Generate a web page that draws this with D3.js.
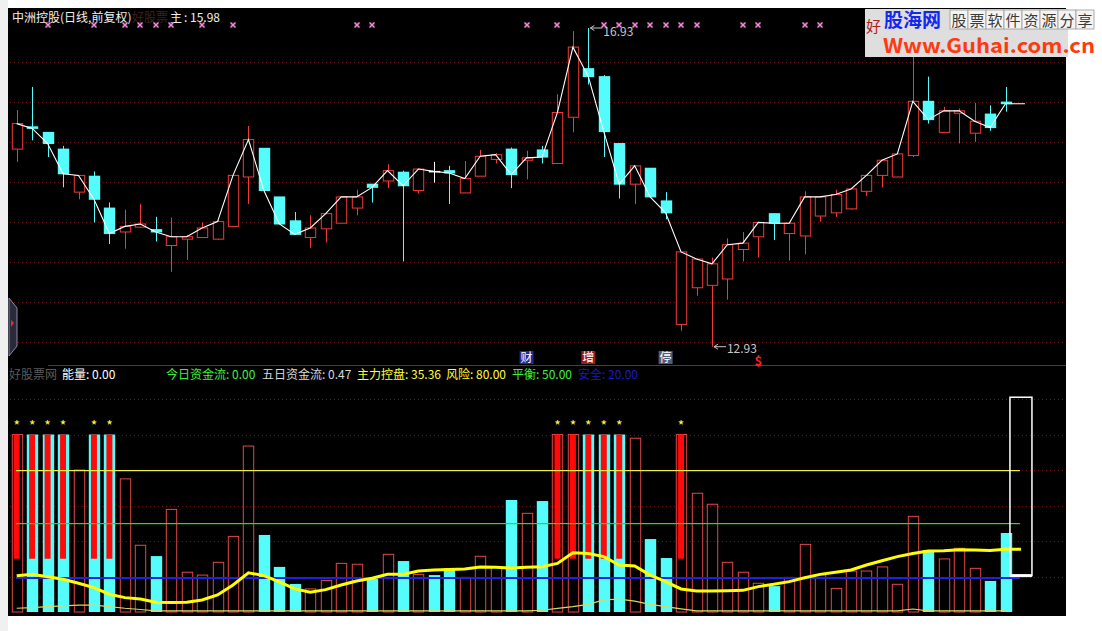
<!DOCTYPE html>
<html><head><meta charset="utf-8">
<script src="https://cdn.jsdelivr.net/npm/d3@7"></script>
<style>
html,body{margin:0;padding:0;background:#fff;}
svg{display:block;}
text{font-family:"Noto Sans CJK SC","DejaVu Sans",sans-serif;}
</style></head>
<body>
<script>
// ---------------- DATA ----------------
const opens  = [15.41,15.69,15.62,15.41,14.87,15.07,14.67,14.37,14.43,14.40,14.20,14.28,14.30,14.28,14.44,15.06,15.42,14.81,14.51,14.30,14.41,14.48,14.67,14.97,15.01,15.12,14.89,15.13,15.14,14.86,15.07,15.28,15.41,15.27,15.40,15.23,15.81,16.42,16.32,15.48,14.97,15.17,14.76,13.21,13.67,13.70,13.78,14.15,14.31,14.60,14.35,14.32,14.57,14.61,14.66,14.88,15.08,15.06,15.33,16.01,15.62,15.86,15.61,15.85,16.00];
const highs  = [15.90,16.19,15.62,15.45,15.08,15.13,14.74,14.65,14.72,14.56,14.55,14.33,14.49,14.52,15.08,15.70,15.42,14.81,14.62,14.58,14.60,14.81,14.90,14.97,15.22,15.14,15.16,15.25,15.20,15.26,15.40,15.36,15.43,15.39,15.45,16.10,16.89,16.93,16.34,15.48,15.20,15.17,14.87,14.12,14.03,14.05,14.29,14.37,14.49,14.60,14.48,14.88,14.81,14.90,14.91,15.08,15.27,15.35,16.75,16.32,15.94,15.92,15.99,15.96,16.19];
const lows   = [15.25,15.52,15.31,14.93,14.78,14.49,14.22,14.16,14.42,14.25,13.87,14.02,14.30,14.27,14.44,14.72,14.89,14.47,14.34,14.17,14.24,14.48,14.58,14.74,14.92,14.00,14.85,14.99,14.72,14.86,15.07,15.23,14.92,15.03,15.23,15.23,15.62,16.22,15.31,14.79,14.72,14.81,14.53,13.13,13.57,12.93,13.52,14.00,14.05,14.27,14.01,14.09,14.50,14.56,14.65,14.82,14.93,15.06,15.31,15.73,15.62,15.48,15.50,15.64,15.88];
const closes = [15.73,15.67,15.48,15.10,15.08,14.78,14.35,14.44,14.47,14.37,14.31,14.31,14.42,14.50,15.08,15.53,14.89,14.47,14.34,14.42,14.60,14.81,14.81,14.93,15.14,14.95,15.16,15.13,15.11,15.04,15.32,15.34,15.09,15.30,15.31,15.87,16.69,16.32,15.63,14.97,15.20,14.81,14.61,14.12,14.03,13.97,14.21,14.23,14.49,14.48,14.48,14.81,14.81,14.84,14.91,15.08,15.27,15.35,16.01,15.78,15.89,15.89,15.76,15.68,15.98];
// top marker days (pink crosses)
const markerDays = [2,5,7,8,9,10,12,14,22,23,33,35,38,39,40,41,42,43,44,47,48,51,52];
// event tags under price panel
const tagDays   = [33,37,42];
const tagTexts  = ["财","增","停"];
const dollarDay = 48;
// lower panel
const energy = [100,100,100,100,80,100,100,75,37.6,31.5,57.8,22.4,20.8,28,42.6,93.5,43.4,25.4,15.8,13,17.8,27.4,26.9,19.3,32.5,28.7,21.2,20.8,24.6,19.5,31.4,25.5,63.1,55.6,62.5,100,100,100,100,100,97.9,41.1,30.4,100,66.9,60.7,28,22.4,16.2,14.6,19.5,38.1,21,13.3,23.1,23.1,25.4,15.6,53.9,34.9,29.9,35.9,24.6,17.5,44.5];
const starDays = [0,1,2,3,5,6,35,36,37,38,39,43];
const starBarTop = 100, starBarBottom = 30;
const mainCtrl = [20.4,21.2,19.9,18.4,16.2,13.7,10,8.1,7.3,5.5,5.3,5.5,6.8,9.6,15.2,22.1,20.5,17,13,11.1,12.6,15.2,17.5,19,21.2,21.2,23.1,23.7,24,24.2,25.4,25.2,24.8,25.2,25.5,27.4,33.4,33,31.2,26.5,25.9,20.8,17.1,13,11.8,11.8,12,12.2,14.3,15.6,17.1,19.3,21.2,22.4,23.7,26.5,28.9,31.2,33,34.4,34.5,35.1,34.9,34.6,35.36];
const flow5 = [2.1,2.5,3,3.4,3.9,3.9,3,2.1,1.4,0.6,0.6,0.6,0.6,0.6,0.6,0.6,0.6,0.6,0.6,0.6,0.6,0.6,0.6,0.6,0.6,0.6,0.6,0.6,0.6,0.6,0.6,0.6,0.6,0.6,1,2,3,4.3,6.8,7.3,6.1,4.3,3,1.8,0.6,0.6,0.6,0.6,0.6,0.6,0.6,0.6,0.6,0.6,0.6,0.6,0.6,0.6,1.7,0.6,0.6,0.6,0.6,0.6,0.6];
const refValues = [80,50,20];
const refColors = ["#f0f040","#1ee61e","#2020e0"];
const boxTop = 121, boxBottom = 20.5;
const gridValues = [20,40,60,80,100,120];
// header texts
const topTitle = "中洲控股(日线,前复权)";
const topMain = ["主",": 15.98"];
const lowLabels = [
  {t:"能量: 0.00", c:"#ffffff", x:62},
  {t:"今日资金流: 0.00", c:"#3cf03c", x:166},
  {t:"五日资金流: 0.47", c:"#d8d8d8", x:262},
  {t:"主力控盘: 35.36", c:"#ffff30", x:357},
  {t:"风险: 80.00", c:"#ffff30", x:446},
  {t:"平衡: 50.00", c:"#3cf03c", x:512},
  {t:"安全: 20.00", c:"#1a1ac0", x:578}
];
const priceMax = 16.93, priceMin = 12.93;

// ---------------- DRAW ----------------
const W = 1102, H = 631;
const svg = d3.select("body").append("svg").attr("width", W).attr("height", H);
svg.append("rect").attr("width", W).attr("height", H).attr("fill", "#ffffff");
svg.append("rect").attr("x", 0).attr("y", 0).attr("width", 8).attr("height", H).attr("fill", "#f0f0f0");
svg.append("rect").attr("x", 8).attr("y", 8).attr("width", 1058).attr("height", 608).attr("fill", "#000");

const n = closes.length;
const x = d3.scaleLinear().domain([0, 64]).range([16.7, 1005.5]);
const yP = d3.scaleLinear().domain([priceMin, priceMax]).range([346.7, 28]);
const yV = d3.scaleLinear().domain([0, 120]).range([612, 399]);
const bw = 10.4;
const UP = "#f03a3a", DN = "#54fcfc";

// price grid (dotted)
const gTop = svg.append("g");
for (let k = 0; k < 8; k++) {
  const gy = Math.round(61.7 + 40 * k) + 0.5;
  gTop.append("line").attr("x1", 10).attr("x2", 1066).attr("y1", gy).attr("y2", gy)
    .attr("stroke", "#701414").attr("stroke-dasharray", "1,3");
}
// lower grid
svg.append("g").selectAll("line").data(gridValues).join("line")
  .attr("x1", 10).attr("x2", 1066)
  .attr("y1", d => Math.round(yV(d)) + 0.5).attr("y2", d => Math.round(yV(d)) + 0.5)
  .attr("stroke", "#701414").attr("stroke-dasharray", "1,3");

// separator
svg.append("line").attr("x1", 48).attr("x2", 1066).attr("y1", 365.5).attr("y2", 365.5).attr("stroke", "#a01818");

// top-left title
svg.append("text").attr("x", 12).attr("y", 22).attr("fill", "#f0f0f0").attr("font-size", 12).text(topTitle);
svg.append("text").attr("x", 132).attr("y", 22).attr("fill", "#3a2222").attr("font-size", 12).text("好股票");
svg.append("text").attr("x", 170).attr("y", 22).attr("fill", "#f0f0f0").attr("font-size", 12).text(topMain[0]);
svg.append("text").attr("x", 184).attr("y", 22).attr("fill", "#f0f0f0").attr("font-size", 12)
  .attr("font-family", "Liberation Sans, Arial, sans-serif").text(topMain[1]);

// markers
const mk = svg.append("g");
markerDays.forEach(i => {
  const cx = Math.round(x(i)), cy = 25;
  mk.append("rect").attr("x", cx - 2.5).attr("y", cy - 2.5).attr("width", 5).attr("height", 5).attr("fill", "#5a2448");
  mk.append("path").attr("d", `M${cx-2.5},${cy-2.5}L${cx+2.5},${cy+2.5}M${cx+2.5},${cy-2.5}L${cx-2.5},${cy+2.5}`)
    .attr("stroke", "#f090d8").attr("stroke-width", 1.2);
});

// candles
const cg = svg.append("g");
for (let i = 0; i < n; i++) {
  const o = opens[i], c = closes[i], h = highs[i], l = lows[i];
  const cx = Math.round(x(i)) + 0.5;
  const up = c > o, flat = c === o;
  const col = flat ? "#ffffff" : (up ? UP : DN);
  const top = yP(Math.max(o, c)), bot = yP(Math.min(o, c));
  if (up) {
    cg.append("line").attr("x1", cx).attr("x2", cx).attr("y1", yP(h)).attr("y2", top).attr("stroke", col);
    cg.append("line").attr("x1", cx).attr("x2", cx).attr("y1", bot).attr("y2", yP(l)).attr("stroke", col);
    cg.append("rect").attr("x", cx - bw / 2).attr("y", top).attr("width", bw).attr("height", Math.max(1, bot - top))
      .attr("fill", "#000").attr("stroke", col);
  } else {
    cg.append("line").attr("x1", cx).attr("x2", cx).attr("y1", yP(h)).attr("y2", yP(l)).attr("stroke", col);
    cg.append("rect").attr("x", cx - bw / 2 - 0.5).attr("y", top - 0.5).attr("width", bw + 1).attr("height", Math.max(1.5, bot - top + 1))
      .attr("fill", col);
  }
}
// close line
const closePts = closes.map((c, i) => [x(i), yP(c)]);
closePts.push([x(65) + 4, yP(closes[n - 1])]);
svg.append("path").attr("d", d3.line()(closePts)).attr("fill", "none").attr("stroke", "#ffffff").attr("stroke-width", 1.1);

// high / low labels
const hiIdx = d3.maxIndex(highs), loIdx = d3.minIndex(lows);
function priceTag(i, v, ty) {
  const ax = x(i) + 2, ay = yP(v);
  svg.append("path").attr("d", `M${ax},${ay}L${ax+12},${ay}M${ax},${ay}L${ax+4},${ay-2.5}M${ax},${ay}L${ax+4},${ay+2.5}`)
    .attr("stroke", "#c8c8c8").attr("fill", "none");
  svg.append("text").attr("x", ax + 13).attr("y", ty).attr("fill", "#c8c8c8").attr("font-size", 12)
    .attr("font-family", "Liberation Sans, Arial, sans-serif").text(v.toFixed(2));
}
priceTag(hiIdx, highs[hiIdx], yP(highs[hiIdx]) + 8);
priceTag(loIdx, lows[loIdx], yP(lows[loIdx]) + 6);

// event tags
const tagFill = ["#1c2c9c", "#9c1c1c", "#4c5c7c"];
tagDays.forEach((d, k) => {
  const cx = x(d);
  svg.append("rect").attr("x", cx - 7).attr("y", 351).attr("width", 14).attr("height", 13).attr("fill", tagFill[k]);
  svg.append("text").attr("x", cx).attr("y", 362).attr("text-anchor", "middle").attr("fill", "#ffffff").attr("font-size", 12).text(tagTexts[k]);
});
svg.append("text").attr("x", x(dollarDay)).attr("y", 366).attr("text-anchor", "middle").attr("fill", "#ff2020")
  .attr("font-size", 13).attr("font-weight", "bold").attr("font-family", "Liberation Sans, Arial, sans-serif").text("$");

// left tab
svg.append("path").attr("d", "M9,298L17,308L17,346L9,356Z").attr("fill", "#2a2a3a").attr("stroke", "#8888a8");
svg.append("path").attr("d", "M11,320L14,323L11,327Z").attr("fill", "#e03030");

// lower header
svg.append("text").attr("x", 9).attr("y", 379).attr("fill", "#5a5a5a").attr("font-size", 12).text("好股票网");
svg.selectAll("text.lab").data(lowLabels).join("text").attr("class", "lab")
  .attr("x", d => d.x).attr("y", 379).attr("fill", d => d.c).attr("font-size", 12).text(d => d.t);

// lower bars
const bg = svg.append("g");
for (let i = 0; i < n; i++) {
  const cx = Math.round(x(i)) + 0.5;
  const v = energy[i];
  const up = closes[i] > opens[i];
  if (up) {
    bg.append("rect").attr("x", cx - bw / 2).attr("y", yV(v)).attr("width", bw).attr("height", yV(0) - yV(v))
      .attr("fill", "none").attr("stroke", "#e04848");
  } else {
    bg.append("rect").attr("x", cx - bw / 2 - 0.5).attr("y", yV(v)).attr("width", bw + 1).attr("height", yV(0) - yV(v))
      .attr("fill", DN);
  }
}
// star bars
starDays.forEach(i => {
  const cx = x(i);
  bg.append("rect").attr("x", cx - 3).attr("y", yV(starBarTop)).attr("width", 6).attr("height", yV(starBarBottom) - yV(starBarTop)).attr("fill", "#ff0a0a");
  bg.append("text").attr("x", cx).attr("y", yV(starBarTop) - 4).attr("text-anchor", "middle").attr("fill", "#ffff40")
    .attr("font-size", 14).attr("font-family", "Liberation Sans, Arial, sans-serif").text("*");
});

// reference lines
const refG = svg.append("g");
refValues.forEach((v, k) => {
  const yy = Math.round(yV(v));
  refG.append("rect").attr("x", 16).attr("y", yy).attr("width", x(65) - 17).attr("height", k === 2 ? 2 : 1.2)
    .attr("fill", refColors[k]);
});

// thin lines
const flowPts = flow5.map((v, i) => [x(i), yV(v)]);
svg.append("path").attr("d", d3.line()(flowPts)).attr("fill", "none").attr("stroke", "#d8d860").attr("stroke-width", 1.2);

// main control line
const mainPts = mainCtrl.map((v, i) => [x(i), yV(v)]);
mainPts.push([x(65), yV(mainCtrl[n - 1])]);
svg.append("path").attr("d", d3.line()(mainPts)).attr("fill", "none").attr("stroke", "#ffff00").attr("stroke-width", 3);

// white box
svg.append("rect").attr("x", x(65) - 11).attr("y", yV(boxTop)).attr("width", 22).attr("height", yV(boxBottom) - yV(boxTop))
  .attr("fill", "none").attr("stroke", "#ffffff").attr("stroke-width", 1.5);
svg.append("line").attr("x1", x(65) - 11).attr("x2", x(65) + 11).attr("y1", yV(boxBottom)).attr("y2", yV(boxBottom))
  .attr("stroke", "#ffffff").attr("stroke-width", 3);

// logo
const lg = svg.append("g");
lg.append("rect").attr("x", 865).attr("y", 9).attr("width", 203).attr("height", 48).attr("fill", "#dedede");
lg.append("text").attr("x", 866).attr("y", 32).attr("fill", "#b02020").attr("font-size", 15).text("好");
lg.append("text").attr("x", 884).attr("y", 27).attr("fill", "#1428f0").attr("font-size", 19).attr("font-weight", "bold").text("股海网");
const slogan = "股票软件资源分享".split("");
slogan.forEach((ch, k) => {
  lg.append("rect").attr("x", 950 + k * 18).attr("y", 10).attr("width", 18).attr("height", 19).attr("fill", "#f4f4f4").attr("stroke", "#9a9a9a").attr("stroke-width", 0.8);
  lg.append("text").attr("x", 959 + k * 18).attr("y", 25.5).attr("text-anchor", "middle").attr("fill", "#3a3a3a").attr("font-size", 15).text(ch);
});
lg.append("text").attr("x", 883).attr("y", 53).attr("fill", "#ff3a10").attr("font-size", 20).attr("font-weight", "bold")
  .attr("font-family", "Liberation Sans, Arial, sans-serif").attr("textLength", 212).attr("lengthAdjust", "spacingAndGlyphs").text("Www.Guhai.com.cn");
</script>
</body></html>
